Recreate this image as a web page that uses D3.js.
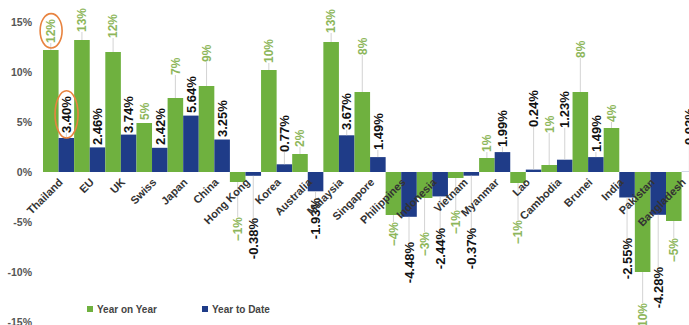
<!DOCTYPE html>
<html>
<head>
<meta charset="utf-8">
<script src="https://cdn.jsdelivr.net/npm/d3@7"></script>
<style>
  html, body { margin: 0; padding: 0; background: #fff; }
  svg { display: block; font-family: "Liberation Sans", Arial, sans-serif; }
</style>
</head>
<body>
<svg id="chart"></svg>
<script>
// chart data
const countries = ["Thailand", "EU", "UK", "Swiss", "Japan", "China", "Hong Kong", "Korea",
  "Australia", "Malaysia", "Singapore", "Philippines", "Indonesia", "Vietnam", "Myanmar",
  "Lao", "Cambodia", "Brunei", "India", "Pakistan", "Bangladesh"];
const yearOnYear = [12.2, 13.2, 12.0, 4.9, 7.4, 8.6, -1.0, 10.2, 1.8, 13.0, 8.0, -4.3,
  -2.6, -0.6, 1.4, -1.1, 0.7, 8.0, 4.4, -10.0, -4.9];
const yearToDate = [3.40, 2.46, 3.74, 2.42, 5.64, 3.25, -0.38, 0.77, -1.93, 3.67, 1.49, -4.48,
  -2.44, -0.37, 1.99, 0.24, 1.23, 1.49, -2.55, -4.28, 0.02];
// where each data label sits (value units, end nearest the bar)
const yoyLabelAt = [12.9, 14.0, 13.4, 5.2, 9.7, 11.0, -4.5, 10.9, 2.5, 13.9, 11.7, -5.0,
  -6.0, -3.8, 2.0, -4.8, 3.9, 11.4, 5.0, -13.1, -6.6];
const ytdLabelAt = [3.9, 2.7, 3.9, 2.7, 5.9, 3.5, -4.6, 2.0, -2.6, 4.2, 2.2, -7.0,
  -5.6, -5.6, 2.5, 4.5, 4.4, 2.0, -6.6, -9.5, 2.7];
const yTicks = [15, 10, 5, 0, -5, -10, -15];
const seriesNames = ["Year on Year", "Year to Date"];

// canvas variables
const width = 689;
const height = 325;
const green = "#6fb13f";
const blue = "#1f3c88";
const greenText = "#8db65a";

const svg = d3.select("#chart").attr("width", width).attr("height", height);

// scales
const xScale = d3.scaleBand()
  .domain(countries)
  .range([43, 43 + countries.length * 31.15])
  .padding(0);

const subScale = d3.scaleBand()
  .domain(seriesNames)
  .range([0, xScale.bandwidth()]);

const yScale = d3.scaleLinear()
  .domain([-15, 15])
  .range([322, 22]);

// y axis labels
const yAxis = svg.append("g")
  .attr("transform", "translate(32, 0)")
  .call(d3.axisLeft(yScale).tickValues(yTicks).tickFormat((d) => d + "%").tickSize(0).tickPadding(0));
yAxis.select(".domain").remove();
yAxis.selectAll("text")
  .style("font-size", "10.5px")
  .style("font-weight", "bold")
  .style("fill", "#555");

// rows for both series
const rows = countries.map((c, i) => ({
  country: c,
  values: [
    { key: seriesNames[0], v: yearOnYear[i], at: yoyLabelAt[i] },
    { key: seriesNames[1], v: yearToDate[i], at: ytdLabelAt[i] },
  ],
}));

const groups = svg.selectAll(".group")
  .data(rows)
  .enter()
  .append("g")
  .attr("class", "group")
  .attr("transform", (d) => `translate(${xScale(d.country)}, 0)`);

// bars
groups.selectAll("rect")
  .data((d) => d.values)
  .enter()
  .append("rect")
  .attr("x", (d) => subScale(d.key))
  .attr("width", subScale.bandwidth())
  .attr("y", (d) => yScale(Math.max(0, d.v)))
  .attr("height", (d) => Math.abs(yScale(d.v) - yScale(0)))
  .attr("fill", (d) => (d.key === seriesNames[0] ? green : blue));

// leader lines
groups.selectAll("line.leader")
  .data((d) => d.values.filter((e) => Math.abs(yScale(e.at) - yScale(e.v)) > 5))
  .enter()
  .append("line")
  .attr("class", "leader")
  .attr("x1", (d) => subScale(d.key) + subScale.bandwidth() / 2)
  .attr("x2", (d) => subScale(d.key) + subScale.bandwidth() / 2)
  .attr("y1", (d) => yScale(d.v))
  .attr("y2", (d) => yScale(d.at))
  .attr("stroke", "#c8c8c8")
  .attr("stroke-width", 0.8);

// data labels
groups.selectAll("text.value")
  .data((d) => d.values)
  .enter()
  .append("text")
  .attr("class", (d, i) => "value s" + i)
  .attr("transform", (d) =>
    `translate(${subScale(d.key) + subScale.bandwidth() / 2}, ${yScale(d.at)}) rotate(-90)`)
  .attr("dy", "0.36em")
  .attr("text-anchor", (d) => (d.v >= 0 ? "start" : "end"))
  .style("font-weight", "bold")
  .style("font-size", (d) => (d.key === seriesNames[0] ? "12px" : "13px"))
  .style("fill", (d) => (d.key === seriesNames[0] ? greenText : "#111"))
  .text((d) => (d.key === seriesNames[0] ? d3.format(".0f")(d.v) : d.v.toFixed(2)) + "%");

// category labels
svg.append("g")
  .selectAll("text")
  .data(countries)
  .enter()
  .append("text")
  .attr("transform", (d) => `translate(${xScale(d) + xScale.bandwidth() / 2 + 5}, 183) rotate(-45)`)
  .attr("text-anchor", "end")
  .style("font-size", "11px")
  .style("font-weight", "bold")
  .style("fill", "#333")
  .text((d) => d);

// orange circles around the Thailand labels
const svgBox = svg.node().getBoundingClientRect();
groups.filter((d) => d.country === countries[0])
  .selectAll("text.value")
  .each(function () {
    const b = this.getBoundingClientRect();
    svg.append("ellipse")
      .attr("cx", b.x - svgBox.x + b.width / 2)
      .attr("cy", b.y - svgBox.y + b.height / 2)
      .attr("rx", b.width / 2 + 4)
      .attr("ry", b.height / 2 + 5)
      .attr("fill", "none")
      .attr("stroke", "#e8833f")
      .attr("stroke-width", 1.6);
  });

// legend
const legend = svg.append("g")
  .selectAll("g")
  .data(seriesNames)
  .enter()
  .append("g")
  .attr("transform", (d, i) => `translate(${87 + i * 115}, 306)`);

legend.append("rect")
  .attr("width", 6)
  .attr("height", 6)
  .attr("fill", (d, i) => (i === 0 ? green : blue));

legend.append("text")
  .attr("x", 10)
  .attr("y", 6.5)
  .style("font-size", "10px")
  .style("font-weight", "bold")
  .style("fill", "#444")
  .text((d) => d);
</script>
</body>
</html>
